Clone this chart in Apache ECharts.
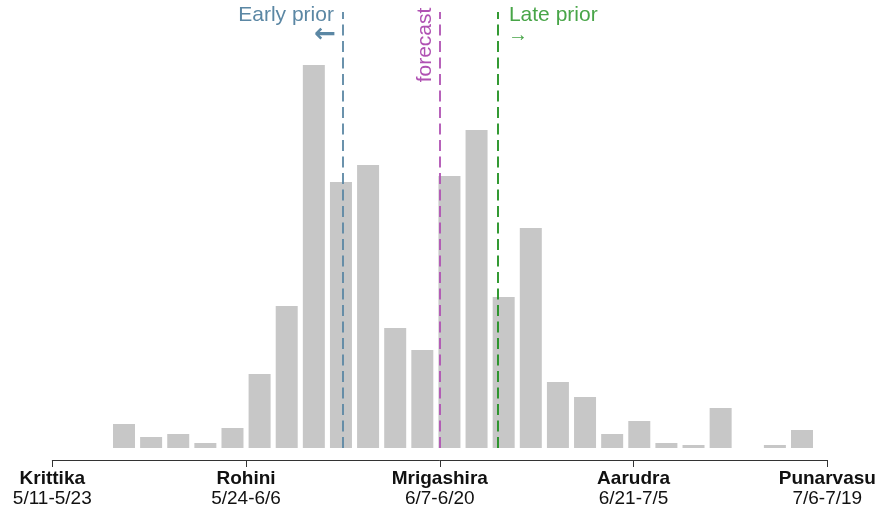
<!DOCTYPE html>
<html>
<head>
<meta charset="utf-8">
<script src="https://cdn.jsdelivr.net/npm/echarts@6/dist/echarts.min.js"></script>
<style>
html,body{margin:0;padding:0;background:#fff;}
#main{width:879px;height:512px;}
</style>
</head>
<body>
<div id="main"></div>
<script>
// ---- data ----
const bins = ['1','2','3','4','5','6','7','8','9','10','11','12','13','14','15','16','17','18','19','20','21','22','23','24','25','26'];
const counts = [24, 11, 14, 5, 20, 74, 142, 383, 266, 283, 120, 98, 272, 318, 151, 220, 66, 51, 14, 27, 5, 3, 40, 0, 3, 18];
const nakshatras = ['Krittika', 'Rohini', 'Mrigashira', 'Aarudra', 'Punarvasu'];
const dateRanges = ['5/11-5/23', '5/24-6/6', '6/7-6/20', '6/21-7/5', '7/6-7/19'];
const earlyPrior = 1.5;
const forecastPos = 2.0;
const latePrior = 2.3;

const FONT = '"Liberation Sans", Arial, Helvetica, sans-serif';
const C_EARLY = '#5b87a4';
const C_FORE = '#b052b3';
const C_LATE_LINE = '#1e8f1e';
const C_LATE_TEXT = '#48a548';

const chart = echarts.init(document.getElementById('main'), null, {renderer: 'canvas'});

const lineSpan = [12, 448]; // vertical extent in axis units of grid 1 (0 at axis line)

function vline(x, color) {
  return [{coord: [x, lineSpan[0]], lineStyle: {color: color, type: [11, 5.5], width: 1.8}}, {coord: [x, lineSpan[1]]}];
}

const option = {
  animation: false,
  backgroundColor: '#ffffff',
  grid: [
    {left: 110.44, width: 705.12, top: 48, height: 400},
    {left: 52.3, width: 775, top: 0, height: 460}
  ],
  xAxis: [
    {type: 'category', gridIndex: 0, data: bins, show: false},
    {
      type: 'value', gridIndex: 1, min: 0, max: 4, interval: 1,
      axisLine: {show: true, lineStyle: {color: '#333', width: 1}},
      axisTick: {show: true, length: 7, lineStyle: {color: '#333', width: 1}},
      splitLine: {show: false},
      axisLabel: {
        margin: 9,
        formatter: function (v) {
          const i = Math.round(v);
          return '{b|' + nakshatras[i] + '}\n{d|' + dateRanges[i] + '}';
        },
        rich: {
          b: {fontFamily: FONT, fontSize: 19, fontWeight: 'bold', color: '#111', lineHeight: 20},
          d: {fontFamily: FONT, fontSize: 19, color: '#111', lineHeight: 20}
        }
      }
    }
  ],
  yAxis: [
    {type: 'value', gridIndex: 0, min: 0, max: 400, show: false},
    {type: 'value', gridIndex: 1, min: 0, max: 460, show: false}
  ],
  series: [
    {
      type: 'bar', xAxisIndex: 0, yAxisIndex: 0, data: counts,
      barWidth: 22,
      itemStyle: {color: '#c7c7c7'},
      z: 2
    },
    {
      type: 'scatter', xAxisIndex: 1, yAxisIndex: 1,
      data: [[forecastPos, 200]], symbolSize: 0, silent: true,
      itemStyle: {opacity: 0},
      markLine: {
        silent: true, symbol: ['none', 'none'], animation: false,
        label: {show: false},
        data: [
          vline(earlyPrior, C_EARLY),
          vline(forecastPos, C_FORE),
          vline(latePrior, C_LATE_LINE)
        ]
      },
      z: 5
    }
  ]
};
chart.setOption(option);

const px = v => chart.convertToPixel({xAxisIndex: 1, yAxisIndex: 1}, [v, 0])[0];
const xe = px(earlyPrior), xf = px(forecastPos), xl = px(latePrior);

chart.setOption({
  graphic: [
    {type: 'text', x: xe - 9, y: 15, style: {text: 'Early prior', fill: C_EARLY, font: '21px ' + FONT, textAlign: 'right', textVerticalAlign: 'middle'}},
    {type: 'text', x: xe - 7, y: 35, style: {text: '\u2190', fill: C_EARLY, font: 'bold 26px "DejaVu Sans", sans-serif', textAlign: 'right', textVerticalAlign: 'middle'}},
    {type: 'text', x: xf - 15, y: 45, rotation: Math.PI / 2, style: {text: 'forecast', fill: C_FORE, font: '21px ' + FONT, textAlign: 'center', textVerticalAlign: 'middle'}},
    {type: 'text', x: xl + 11, y: 15, style: {text: 'Late prior', fill: C_LATE_TEXT, font: '21px ' + FONT, textAlign: 'left', textVerticalAlign: 'middle'}},
    {type: 'text', x: xl + 10, y: 35, style: {text: '\u2192', fill: C_LATE_TEXT, font: '20px ' + FONT, textAlign: 'left', textVerticalAlign: 'middle'}}
  ]
});
</script>
</body>
</html>
